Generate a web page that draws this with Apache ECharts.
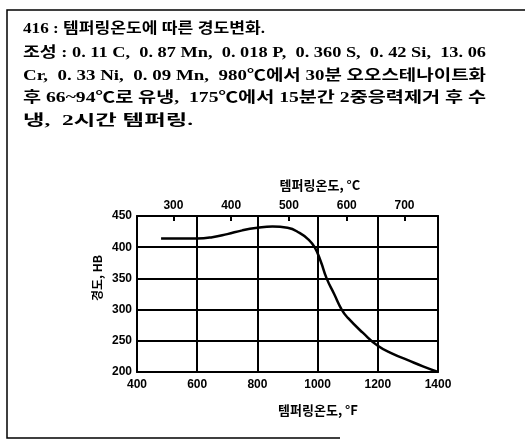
<!DOCTYPE html>
<html>
<head>
<meta charset="utf-8">
<script src="https://cdn.jsdelivr.net/npm/echarts@6/dist/echarts.min.js"></script>
<style>
html,body{margin:0;padding:0;background:#fff;}
#c{width:525px;height:440px;}
</style>
</head>
<body>
<div id="c"></div>
<script>
// Data
var tempF = [480, 600, 650, 700, 750, 800, 850, 900, 940, 970, 990, 1010, 1030, 1055, 1080, 1100, 1150, 1200, 1250, 1300, 1350, 1400];
var hardnessHB = [414, 414, 416, 421, 427, 431, 433, 431, 423, 412, 400, 378, 350, 325, 300, 287, 263, 242, 229, 219, 209, 200];
var fTicks = [400, 600, 800, 1000, 1200, 1400];
var cTicks = [300, 400, 500, 600, 700];
var hbTicks = [200, 250, 300, 350, 400, 450];
var titleLines = [
  '416 : 템퍼링온도에 따른 경도변화.',
  '조성 : 0. 11 C,  0. 87 Mn,  0. 018 P,  0. 360 S,  0. 42 Si,  13. 06',
  'Cr,  0. 33 Ni,  0. 09 Mn,  980℃에서 30분 오오스테나이트화',
  '후 66~94℃로 유냉,  175℃에서 15분간 2중응력제거 후 수',
  '냉,  2시간 템퍼링.'
];
var xNameTop = '템퍼링온도, °C';
var xNameBottom = '템퍼링온도, °F';
var yName = '경도, HB';

// layout (styling only)
var lineRightEdge = [265, 486, 486, 486, 193];
var lineY = [29, 53, 76, 98, 121];

var chart = echarts.init(document.getElementById('c'), null, {renderer: 'canvas'});
var labelFont = {color: '#000', fontWeight: 'bold', fontSize: 12, fontFamily: '"Liberation Sans", Arial, sans-serif'};
var textFamily = '"Liberation Serif", "Noto Sans CJK KR", serif';
var textSize = 15;

var mctx = document.createElement('canvas').getContext('2d');
mctx.font = 'bold ' + textSize + 'px ' + textFamily;

var graphics = [];
titleLines.forEach(function (t, i) {
  var w = mctx.measureText(t).width;
  var sx = (lineRightEdge[i] - 23) / w;
  graphics.push({
    type: 'text', x: 23, y: lineY[i], scaleX: sx,
    style: {text: t, fill: '#000', fontSize: textSize, fontWeight: 'bold', fontFamily: textFamily, verticalAlign: 'middle'}
  });
});
var nameFont = '"Noto Sans CJK KR", sans-serif';
graphics.push({type: 'text', x: 320, y: 185, style: {text: xNameTop, fill: '#000', fontSize: 13, fontWeight: 'bold', fontFamily: nameFont, align: 'center', verticalAlign: 'middle'}});
graphics.push({type: 'text', x: 318, y: 410, style: {text: xNameBottom, fill: '#000', fontSize: 13, fontWeight: 'bold', fontFamily: nameFont, align: 'center', verticalAlign: 'middle'}});
graphics.push({type: 'text', x: 97, y: 278, rotation: Math.PI / 2, style: {text: yName, fill: '#000', fontSize: 12, fontWeight: 'bold', fontFamily: nameFont, align: 'center', verticalAlign: 'middle'}});
graphics.push({type: 'polyline', shape: {points: [[525, 10], [7, 10], [7, 438], [340, 438]]}, style: {stroke: '#000', lineWidth: 1.5, fill: null}});

var plain = function (v) { return String(v); };

chart.setOption({
  animation: false,
  backgroundColor: '#fff',
  grid: {left: 137, top: 216, width: 301, height: 156, show: false},
  xAxis: [
    {
      type: 'value', position: 'bottom', min: 400, max: 1400, interval: 200,
      axisLine: {show: true, lineStyle: {color: '#000', width: 2}},
      axisTick: {show: false},
      axisLabel: Object.assign({margin: 7, formatter: plain}, labelFont),
      splitLine: {show: true, lineStyle: {color: '#000', width: 2}}
    },
    {
      type: 'value', position: 'top', min: 237, max: 758,
      axisLine: {show: true, lineStyle: {color: '#000', width: 2}},
      axisTick: {show: true, inside: true, length: 5, customValues: cTicks, lineStyle: {color: '#000', width: 2}},
      axisLabel: Object.assign({margin: 4, customValues: cTicks, formatter: plain}, labelFont),
      splitLine: {show: false}
    }
  ],
  yAxis: [
    {
      type: 'value', min: 200, max: 450, interval: 50,
      axisLine: {show: true, lineStyle: {color: '#000', width: 2}},
      axisTick: {show: false},
      axisLabel: Object.assign({margin: 5, formatter: plain}, labelFont),
      splitLine: {show: true, lineStyle: {color: '#000', width: 2}}
    },
    {
      type: 'value', position: 'right', min: 200, max: 450, interval: 50,
      axisLine: {show: true, lineStyle: {color: '#000', width: 2}},
      axisTick: {show: false}, axisLabel: {show: false}, splitLine: {show: false}
    }
  ],
  series: [{
    type: 'line', xAxisIndex: 0, yAxisIndex: 0,
    data: tempF.map(function (f, i) { return [f, hardnessHB[i]]; }),
    smooth: 0.5, showSymbol: false, symbol: 'none',
    lineStyle: {color: '#000', width: 2.5}
  }],
  graphic: graphics
});
</script>
</body>
</html>
